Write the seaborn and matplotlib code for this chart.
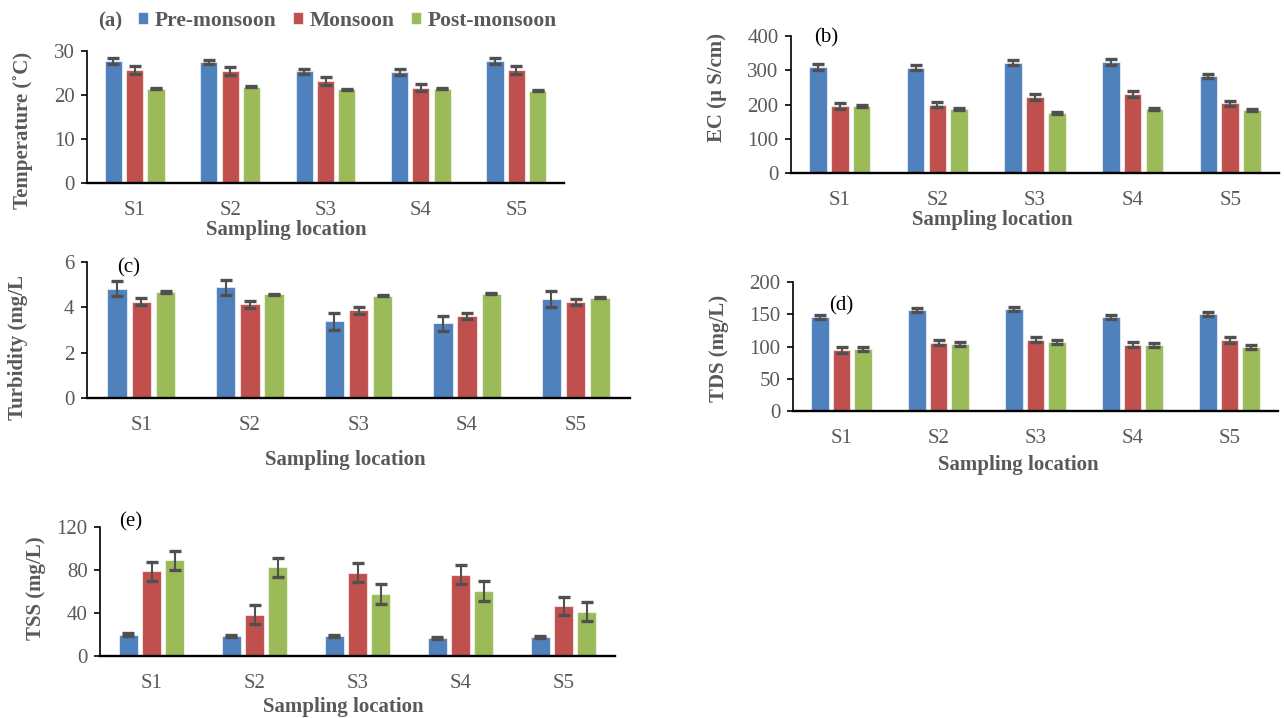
import matplotlib
matplotlib.use("Agg")
import matplotlib.pyplot as plt
import pandas as pd
import seaborn as sns

# ---- data -------------------------------------------------------------
sites = ["S1", "S2", "S3", "S4", "S5"]
seasons = ["Pre-monsoon", "Monsoon", "Post-monsoon"]

temp_pre = [27.7, 27.5, 25.4, 25.2, 27.7]
temp_mon = [25.7, 25.5, 23.2, 21.7, 25.6]
temp_post = [21.4, 21.9, 21.3, 21.4, 21.0]
temp_pre_err = [0.6, 0.55, 0.55, 0.6, 0.6]
temp_mon_err = [0.9, 0.85, 0.85, 0.9, 0.9]
temp_post_err = [0.15, 0.15, 0.15, 0.15, 0.15]

ec_pre = [310, 308, 322, 324, 283]
ec_mon = [196, 200, 222, 230, 203]
ec_post = [195, 187, 176, 187, 184]
ec_pre_err = [8, 8, 8, 8, 7]
ec_mon_err = [8, 8, 8, 8, 8]
ec_post_err = [3, 3, 3, 3, 3]

turb_pre = [4.83, 4.88, 3.38, 3.29, 4.36]
turb_mon = [4.25, 4.13, 3.87, 3.62, 4.24]
turb_post = [4.67, 4.58, 4.52, 4.60, 4.42]
turb_pre_err = [0.34, 0.34, 0.36, 0.34, 0.35]
turb_mon_err = [0.16, 0.15, 0.15, 0.12, 0.12]
turb_post_err = [0.03, 0.03, 0.03, 0.03, 0.03]

tds_pre = [145.5, 156.0, 158.4, 145.5, 150.4]
tds_mon = [94.5, 106.0, 110.6, 103.0, 110.0]
tds_post = [95.6, 104.0, 107.5, 102.3, 99.7]
tds_pre_err = [3, 3, 3, 3, 3]
tds_mon_err = [4, 4, 4, 4, 4]
tds_post_err = [3, 3, 3, 3, 3]

tss_pre = [20.0, 18.5, 18.5, 17.0, 17.3]
tss_mon = [78.7, 38.6, 77.4, 75.6, 46.6]
tss_post = [89.1, 82.7, 57.7, 60.5, 41.3]
tss_pre_err = [1.2, 1.0, 1.0, 1.0, 1.0]
tss_mon_err = [8.6, 8.8, 8.8, 8.8, 8.6]
tss_post_err = [8.9, 8.8, 8.9, 8.9, 8.8]

# ---- style ------------------------------------------------------------
sns.set_theme(style="white")
plt.rcParams["font.family"] = ["Liberation Serif", "DejaVu Serif"]

GREY = "#595959"
palette = ["#4F81BD", "#C0504D", "#9BBB59"]
FS = 15

W, H = 1284, 718
fig = plt.figure(figsize=(W / 100, H / 100), dpi=100)


def frame(values, errors):
    rows = []
    for season, vals, errs in zip(seasons, values, errors):
        for site, v, e in zip(sites, vals, errs):
            rows.append({"site": site, "season": season, "value": v, "err": e})
    return pd.DataFrame(rows)


def panel(box, values, errors, ymax, yticks, ylabel, ylab_c, xlab_c, legend=False):
    left, top, right, bottom = box
    wpx, hpx = right - left, bottom - top
    ax = fig.add_axes([left / W, 1 - bottom / H, wpx / W, hpx / H])
    df = frame(values, errors)
    sns.barplot(data=df, x="site", y="value", hue="season", hue_order=seasons,
                palette=palette, saturation=1, width=0.67, gap=0.2, errorbar=None,
                edgecolor=(1, 1, 1, 0.6), linewidth=0.8, legend=legend, ax=ax)
    for cont, season in zip(ax.containers, seasons):
        sub = df[df["season"] == season]
        xs = [p.get_x() + p.get_width() / 2 for p in cont.patches]
        ax.errorbar(xs, sub["value"], yerr=sub["err"], fmt="none", ecolor="#505050",
                    elinewidth=1.5, capsize=4.5, capthick=2.4, zorder=3)
    ax.set_xlim(-0.5, 4.5)
    ax.set_ylim(0, ymax)
    ax.set_yticks(yticks)
    sns.despine(ax=ax)
    ax.spines["bottom"].set_color("black")
    ax.spines["bottom"].set_linewidth(1.7)
    ax.spines["left"].set_color("black")
    ax.spines["left"].set_linewidth(1.2)
    ax.tick_params(axis="y", left=True, length=4, width=1.2, color="black",
                   pad=5, labelsize=FS, labelcolor=GREY)
    ax.tick_params(axis="x", bottom=False, length=0, pad=13,
                   labelsize=FS, labelcolor=GREY)
    ax.set_xlabel("Sampling location", fontsize=FS, fontweight="bold", color=GREY)
    ax.xaxis.set_label_coords((xlab_c[0] - left) / wpx, (bottom - xlab_c[1]) / hpx)
    ax.xaxis.label.set_va("center")
    ax.set_ylabel(ylabel, fontsize=FS, fontweight="bold", color=GREY)
    ax.yaxis.set_label_coords((ylab_c[0] - left) / wpx, (bottom - ylab_c[1]) / hpx)
    ax.yaxis.label.set_va("center")
    return ax


def tag(x, y, s, **kw):
    fig.text(x / W, 1 - y / H, s, ha="center", va="center", fontsize=FS, **kw)


ax_a = panel((87, 51, 564, 183), [temp_pre, temp_mon, temp_post],
             [temp_pre_err, temp_mon_err, temp_post_err], 30, [0, 10, 20, 30],
             "Temperature (\u02daC)", (23, 130), (286, 230), legend=True)
ax_b = panel((791, 36, 1279, 173), [ec_pre, ec_mon, ec_post],
             [ec_pre_err, ec_mon_err, ec_post_err], 400, [0, 100, 200, 300, 400],
             "EC (\u00b5 S/cm)", (717, 88), (992, 220))
ax_c = panel((87, 262, 630, 398), [turb_pre, turb_mon, turb_post],
             [turb_pre_err, turb_mon_err, turb_post_err], 6, [0, 2, 4, 6],
             "Turbidity (mg/L", (18, 348), (345, 460))
ax_d = panel((793, 282, 1278, 411), [tds_pre, tds_mon, tds_post],
             [tds_pre_err, tds_mon_err, tds_post_err], 200, [0, 50, 100, 150, 200],
             "TDS (mg/L)", (719, 348), (1018, 465))
ax_e = panel((100, 527, 615, 656), [tss_pre, tss_mon, tss_post],
             [tss_pre_err, tss_mon_err, tss_post_err], 120, [0, 40, 80, 120],
             "TSS (mg/L)", (36, 588), (343, 707))

# legend row above panel (a)
sns.move_legend(ax_a, "center left", bbox_to_anchor=(138 / W, 1 - 21 / H),
                bbox_transform=fig.transFigure, ncol=3, title=None, frameon=False,
                borderpad=0, borderaxespad=0, handlelength=0.48, handleheight=0.48,
                handletextpad=0.3, columnspacing=0.75,
                prop={"weight": "bold", "size": 15.5})
for t in ax_a.get_legend().get_texts():
    t.set_color(GREY)
tag(110, 21, "(a)", fontweight="bold", color=GREY)

# panel tags
tag(826, 38, "(b)", color="black")
tag(129, 268, "(c)", color="black")
tag(841, 306, "(d)", color="black")
tag(131, 522, "(e)", color="black")

fig.savefig("out.png", dpi=100, facecolor="white")
